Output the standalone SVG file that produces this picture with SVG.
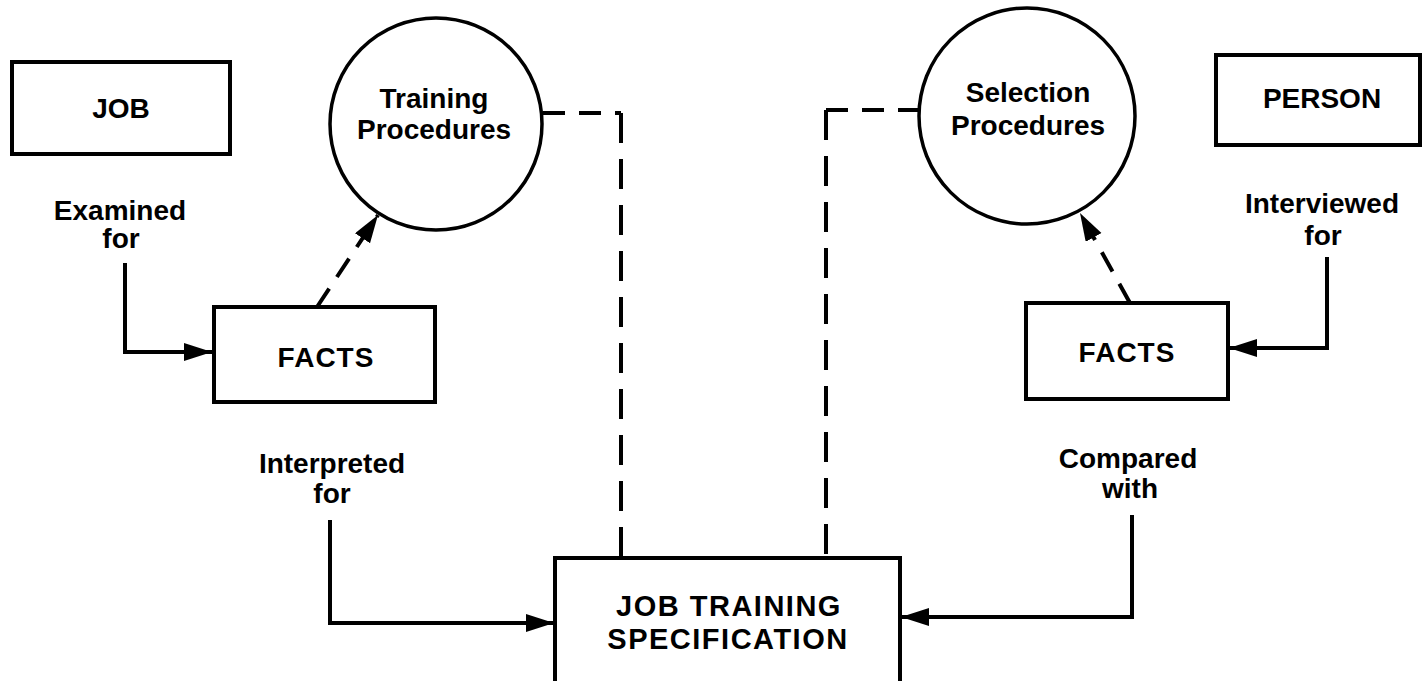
<svg xmlns="http://www.w3.org/2000/svg" width="1424" height="681" viewBox="0 0 1424 681">
<style>
.box{fill:#fff;stroke:#000;stroke-width:4}
.circ{fill:#fff;stroke:#000;stroke-width:3.5}
.t{font-family:"Liberation Sans",Arial,sans-serif;font-weight:bold;font-size:28px;fill:#000;text-anchor:middle}
.big{font-size:29px;letter-spacing:1.5px}
.line{fill:none;stroke:#000;stroke-width:4}
.dash{fill:none;stroke:#000;stroke-width:4;stroke-dasharray:30 16}
.dash2{fill:none;stroke:#000;stroke-width:4;stroke-dasharray:22 14}
</style>
<defs>
<marker id="ah" markerUnits="userSpaceOnUse" markerWidth="30" markerHeight="20" refX="28" refY="9" orient="auto">
<path d="M0,0 L28,9 L0,18 z" fill="#000"/>
</marker>
</defs>
<g id="job"><rect class="box" x="12" y="62" width="218" height="92"/><text class="t" x="121" y="118">JOB</text></g>
<g id="training"><circle class="circ" cx="436" cy="124" r="106"/><text class="t" x="434" y="108">Training</text><text class="t" x="434" y="139">Procedures</text></g>
<g id="selection"><circle class="circ" cx="1027" cy="116" r="108"/><text class="t" x="1028" y="102">Selection</text><text class="t" x="1028" y="135">Procedures</text></g>
<g id="person"><rect class="box" x="1216" y="55" width="204" height="90"/><text class="t" x="1322" y="108">PERSON</text></g>
<g id="facts-left"><rect class="box" x="214" y="307" width="221" height="95"/><text class="t" x="326" y="367" style="letter-spacing:1px">FACTS</text></g>
<g id="facts-right"><rect class="box" x="1026" y="303" width="202" height="96"/><text class="t" x="1127" y="362" style="letter-spacing:1px">FACTS</text></g>
<g id="jts"><rect class="box" x="555" y="558" width="345" height="140"/><text class="t big" x="729" y="616">JOB TRAINING</text><text class="t big" x="728" y="649">SPECIFICATION</text></g>
<g id="labels">
<text class="t" x="120" y="220">Examined</text><text class="t" x="121" y="248">for</text>
<text class="t" x="1322" y="213">Interviewed</text><text class="t" x="1323" y="245">for</text>
<text class="t" x="332" y="473">Interpreted</text><text class="t" x="332" y="503">for</text>
<text class="t" x="1128" y="468">Compared</text><text class="t" x="1130" y="498">with</text>
</g>
<g id="connectors">
<path class="line" d="M125,263 V352 H212" marker-end="url(#ah)"/>
<path class="line" d="M1327,257 V348 H1229" marker-end="url(#ah)"/>
<path class="line" d="M330,520 V623 H554" marker-end="url(#ah)"/>
<path class="line" d="M1132,515 V617 H901" marker-end="url(#ah)"/>
<path class="dash2" d="M543,113 H621"/>
<path class="dash" d="M621,113 V558"/>
<path class="dash2" d="M920,110 H826"/>
<path class="dash" d="M826,110 V558"/>
<path class="dash2" d="M317,307 L378,215" marker-end="url(#ah)"/>
<path class="dash2" d="M1130,303 L1080,213" marker-end="url(#ah)"/>
</g>
</svg>
